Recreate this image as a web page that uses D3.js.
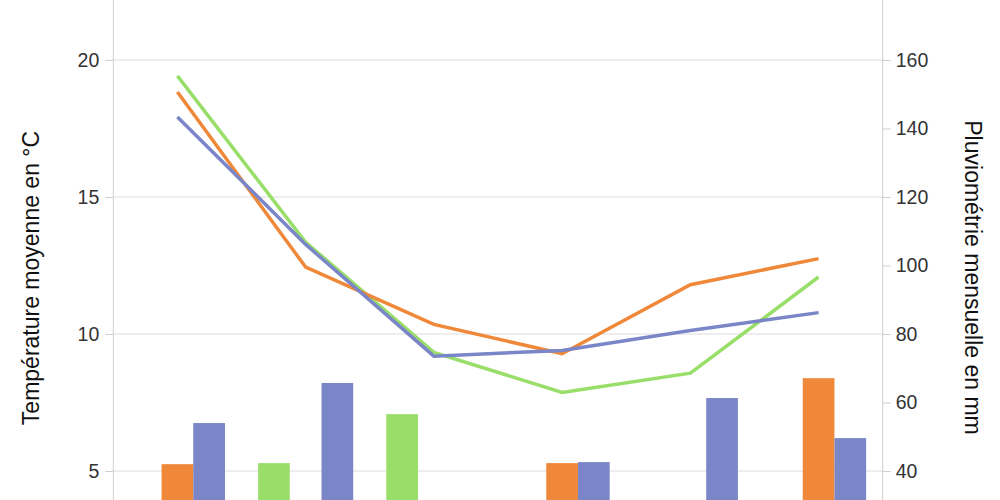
<!DOCTYPE html>
<html><head><meta charset="utf-8">
<script src="https://cdn.jsdelivr.net/npm/d3@7"></script>
<style>body{margin:0;background:#fff}svg{display:block;font-family:"Liberation Sans",Arial,sans-serif}</style>
</head><body><svg id="c" width="1000" height="500"></svg>
<script>
const categories = ["Mars","Avril","Mai","Juin","Juillet","Août"];
const seriesNames = ["vert","orange","bleu"];
const seriesColors = ["#98DE69","#F0883A","#7A86C7"];
// Temperature (°C) lines
const tempGreen  = [19.42, 13.35, 9.33, 7.87, 8.57, 12.08];
const tempOrange = [18.83, 12.44, 10.35, 9.28, 11.80, 12.75];
const tempBlue   = [17.92, 13.27, 9.19, 9.40, 10.13, 10.78];
// Rainfall (mm) bars
const rainGreen  = [28, 42.3, 56.6, 26, 24, 22];
const rainOrange = [42.0, 27, 25, 42.3, 29, 67.1];
const rainBlue   = [54.0, 65.7, 26, 42.6, 61.3, 49.6];
const tempTicks = [5, 10, 15, 20];
const rainTicks = [40, 60, 80, 100, 120, 140, 160];

const temps = [tempGreen, tempOrange, tempBlue];
const rains = [rainGreen, rainOrange, rainBlue];

const svg = d3.select("#c");
const x0 = 113.3, x1 = 882.7;
const x = d3.scaleBand().domain(categories).range([x0, x1]).padding(0);
const xi = d3.scaleBand().domain(seriesNames).range([0, x.bandwidth()]).paddingInner(0).paddingOuter(0.522);
const yT = d3.scaleLinear().domain([0, 20]).range([608, 60]);
const yP = d3.scaleLinear().domain([0, 160]).range([608, 60]);

// gridlines from left axis
svg.append("g").selectAll("line").data(tempTicks).join("line")
  .attr("x1", x0).attr("x2", x1).attr("y1", d => yT(d)).attr("y2", d => yT(d))
  .attr("stroke", "#dcdcdc").attr("stroke-width", 1);

// axes
const gL = svg.append("g").attr("transform", `translate(${x0},0)`)
  .call(d3.axisLeft(yT).tickValues(tempTicks).tickSize(8).tickPadding(6).tickFormat(d3.format("d")));
const gR = svg.append("g").attr("transform", `translate(${x1},0)`)
  .call(d3.axisRight(yP).tickValues(rainTicks).tickSize(8).tickPadding(5).tickFormat(d3.format("d")));
[gL, gR].forEach(g => {
  g.select(".domain").remove();
  g.selectAll(".tick line").attr("stroke", "#cfcfcf");
  g.selectAll(".tick text").attr("fill", "#333").style("font-size", "19.5px").style("font-family", "'Liberation Sans',Arial,sans-serif");
});
svg.append("line").attr("x1", x0).attr("x2", x0).attr("y1", 0).attr("y2", 620).attr("stroke", "#cfcfcf");
svg.append("line").attr("x1", x1).attr("x2", x1).attr("y1", 0).attr("y2", 620).attr("stroke", "#cfcfcf");

// bars
seriesNames.forEach((s, i) => {
  svg.append("g").selectAll("rect").data(rains[i]).join("rect")
    .attr("x", (d, j) => x(categories[j]) + xi(s))
    .attr("width", xi.bandwidth())
    .attr("y", d => yP(d))
    .attr("height", d => yP(0) - yP(d))
    .attr("fill", seriesColors[i]);
});

// lines
const line = d3.line().x((d, j) => x(categories[j]) + x.bandwidth() / 2).y(d => yT(d));
seriesNames.forEach((s, i) => {
  svg.append("path").datum(temps[i]).attr("d", line)
    .attr("fill", "none").attr("stroke", seriesColors[i]).attr("stroke-width", 3.5)
    .attr("stroke-linejoin", "miter");
});

// axis titles
svg.append("text").attr("transform", "translate(39,278) rotate(-90)")
  .attr("text-anchor", "middle").attr("fill", "#111").style("font-size", "23px")
  .text("Température moyenne en °C");
svg.append("text").attr("transform", "translate(965,277.5) rotate(90)")
  .attr("text-anchor", "middle").attr("fill", "#111").style("font-size", "23px")
  .text("Pluviométrie mensuelle en mm");
</script></body></html>
